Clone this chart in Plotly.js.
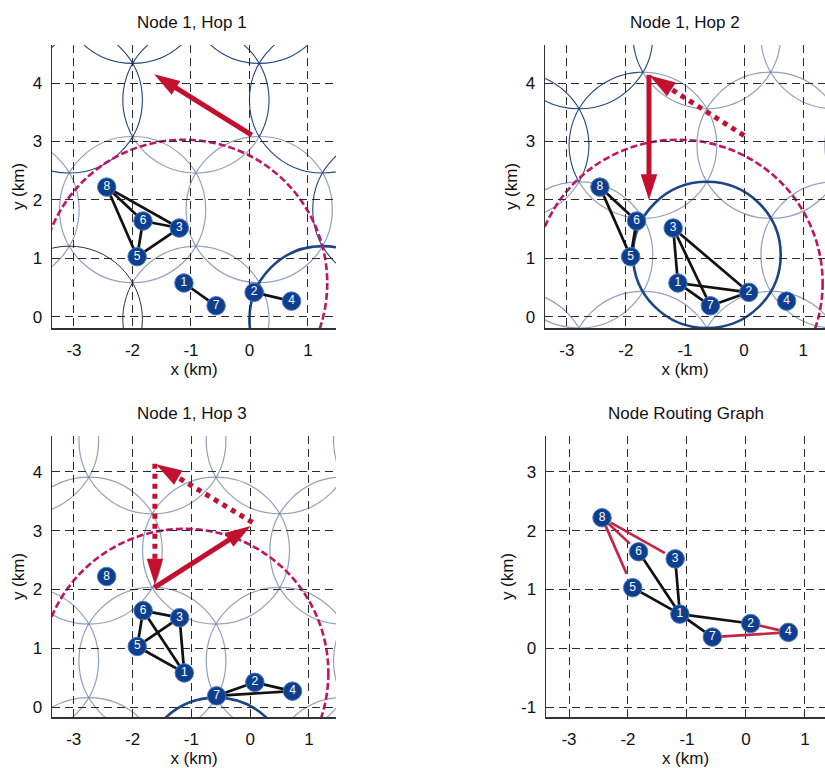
<!DOCTYPE html>
<html><head><meta charset="utf-8">
<script src="https://cdn.plot.ly/plotly-3.0.1.min.js"></script>
<style>html,body{margin:0;padding:0;background:#fff}</style>
</head><body><div id="chart" style="width:825px;height:768px"></div>
<script>
// ---------------- data ----------------
const nodeLabels = ['1','2','3','4','5','6','7','8'];
const nodeX = [-1.12, 0.08, -1.20, 0.72, -1.92, -1.82, -0.57, -2.44];
const nodeY = [0.58, 0.42, 1.52, 0.27, 1.03, 1.64, 0.19, 2.22];

const edgesHop1 = [[8,6],[8,3],[8,5],[6,3],[6,5],[5,3],[1,7],[2,4]];
const edgesHop2 = [[8,6],[8,5],[6,5],[3,1],[3,7],[3,2],[1,2],[1,7],[7,2]];
const edgesHop3 = [[6,3],[6,5],[6,1],[5,3],[5,1],[3,1],[7,2],[7,4],[2,4]];
const edgesRouting = [[6,1],[3,1],[5,1],[1,2],[1,7]];
const redEdgesRouting = [[8,3],[8,6],[8,5],[2,4],[7,4]];
const redEdgeStart = [0.12, 0.15, 0.12, 0.20, 0.10];
const redEdgeEnd   = [0.86, 0.76, 0.80, 0.75, 0.88];

const cellRadius = 1.25;   // km
const rangeRadius = 2.45;  // km, around node 1

// coverage cells (centre, visible arc in degrees, colour class)
const hop1CellX  = [-1.998, 0.167, 2.332, -4.163, -3.08, 1.25, 2.332, -0.915, -0.915, -1.998, 0.167, -4.163, -0.915, -0.915, -3.08, 1.25];
const hop1CellY  = [5.585, 5.585, 5.585, 5.585, 3.71, 3.71, 1.835, 3.71, 3.71, 1.835, 1.835, 1.835, -0.04, -0.04, -0.04, -0.04];
const hop1CellA0 = [0, 0, 0, 0, 0, 0, 0, -30, 210, 0, 0, 0, -30, 150, 0, 0];
const hop1CellA1 = [360, 360, 360, 360, 360, 360, 360, 210, 330, 360, 360, 360, 150, 220, 360, 360];
const hop1CellKind = ['navy','navy','navy','navy','navy','navy','navy','navy','gray','gray','gray','gray','gray','black','black','thick'];

const hop2CellX  = [-2.795, -3.877, -3.877, -0.63, -0.63, -1.712, -1.712, 1.535, 0.453, 1.535, -2.795, -1.712, 0.453, -3.877, 2.618, -0.63];
const hop2CellY  = [4.81, 2.935, 2.935, 4.81, 4.81, 2.935, 2.935, 4.81, 2.935, 1.06, 1.06, -0.815, -0.815, -0.815, 2.935, 1.06];
const hop2CellA0 = [0, -30, -70, 150, -150, 90, -150, 0, 0, 0, 0, 0, 0, 0, 0, 0];
const hop2CellA1 = [360, 70, -30, 210, 150, 210, 90, 360, 360, 360, 360, 360, 360, 360, 360, 360];
const hop2CellKind = ['navy','navy','gray','navy','gray','navy','gray','gray','gray','gray','gray','gray','gray','gray','gray','thick'];

const hop3CellX  = [-0.58, -2.745, 1.585, 0.503, -1.662, -3.827, 2.668, 0.503, -1.662, -3.827, 2.668, -2.745, 1.585, -0.58];
const hop3CellY  = [2.66, 2.66, 2.66, 4.535, 4.535, 4.535, 4.535, 0.785, 0.785, 0.785, 0.785, -1.09, -1.09, -1.09];
const hop3CellA0 = [0,0,0,0,0,0,0,0,0,0,0,0,0,0];
const hop3CellA1 = [360,360,360,360,360,360,360,360,360,360,360,360,360,360];
const hop3CellKind = ['gray','gray','gray','gray','gray','gray','gray','gray','gray','gray','gray','gray','gray','thick'];

// hop arrows (tail -> head)
const hop1ArrowTailX = [0.04],  hop1ArrowTailY = [3.11];
const hop1ArrowHeadX = [-1.63], hop1ArrowHeadY = [4.15];
const hop1ArrowDotted = [false];
const hop2ArrowTailX = [0.00, -1.61], hop2ArrowTailY = [3.10, 4.14];
const hop2ArrowHeadX = [-1.60, -1.61], hop2ArrowHeadY = [4.13, 2.00];
const hop2ArrowDotted = [true, false];
const hop3ArrowTailX = [0.04, -1.62, -1.63], hop3ArrowTailY = [3.14, 4.14, 2.03];
const hop3ArrowHeadX = [-1.60, -1.62, 0.01], hop3ArrowHeadY = [4.13, 2.08, 3.08];
const hop3ArrowDotted = [true, true, false];

const xTicks = [-3, -2, -1, 0, 1];
const yTicksHop = [0, 1, 2, 3, 4];
const yTicksRouting = [-1, 0, 1, 2, 3];

const panelTitles = ['Node 1, Hop 1', 'Node 1, Hop 2', 'Node 1, Hop 3', 'Node Routing Graph'];

// ---------------- styles ----------------
const FONT = 'Liberation Sans, Arial, Helvetica, sans-serif';
const RED = '#c3102f';
const kindStyle = {
  gray:  {color: 'rgba(118,136,170,0.80)', width: 1.2},
  navy:  {color: '#24447e', width: 1.1},
  black: {color: '#1a1a1a', width: 0.9},
  thick: {color: '#1d4587', width: 2.6}
};

const shapes = [];
const annotations = [];
const traces = [];

function cellShapes(cx, cy, a0, a1, kind, xr, yr) {
  const order = ['gray','black','navy','thick'];
  order.forEach(k => {
    for (let i = 0; i < cx.length; i++) {
      if (kind[i] !== k) continue;
      const st = kindStyle[k];
      if (a1[i] - a0[i] >= 360) {
        shapes.push({type:'circle', xref:xr, yref:yr, layer:'below',
          x0: cx[i]-cellRadius, x1: cx[i]+cellRadius, y0: cy[i]-cellRadius, y1: cy[i]+cellRadius,
          line:{color:st.color, width:st.width}});
      } else {
        let p = '';
        const n = Math.ceil((a1[i]-a0[i])/3);
        for (let s = 0; s <= n; s++) {
          const a = (a0[i] + (a1[i]-a0[i])*s/n) * Math.PI/180;
          const px = cx[i] + cellRadius*Math.cos(a), py = cy[i] + cellRadius*Math.sin(a);
          p += (s === 0 ? 'M' : 'L') + px.toFixed(4) + ',' + py.toFixed(4) + ' ';
        }
        shapes.push({type:'path', xref:xr, yref:yr, layer:'below', path:p,
          line:{color:st.color, width:st.width}});
      }
    }
  });
}

function rangeCircle(xr, yr) {
  shapes.push({type:'circle', xref:xr, yref:yr, layer:'below',
    x0: nodeX[0]-rangeRadius, x1: nodeX[0]+rangeRadius,
    y0: nodeY[0]-rangeRadius, y1: nodeY[0]+rangeRadius,
    line:{color:'#c01464', width:2.6, dash:'7px,3px'}});
}

function arrowShapes(tx, ty, hx, hy, dotted, xr, yr) {
  const headLen = 0.44, headHalf = 0.14;
  for (let i = 0; i < tx.length; i++) {
    const dx = hx[i]-tx[i], dy = hy[i]-ty[i];
    const L = Math.hypot(dx, dy), ux = dx/L, uy = dy/L;
    const bx = hx[i] - ux*headLen*0.8, by = hy[i] - uy*headLen*0.8;
    shapes.push({type:'line', xref:xr, yref:yr, layer:'above',
      x0: tx[i], y0: ty[i], x1: bx, y1: by,
      line:{color:RED, width:5, dash: dotted[i] ? 'dot' : 'solid'}});
    const cx = hx[i] - ux*headLen, cy = hy[i] - uy*headLen;
    const p = 'M' + hx[i] + ',' + hy[i] +
      ' L' + (cx - uy*headHalf) + ',' + (cy + ux*headHalf) +
      ' L' + (cx + uy*headHalf) + ',' + (cy - ux*headHalf) + ' Z';
    shapes.push({type:'path', xref:xr, yref:yr, layer:'above', path:p,
      fillcolor:RED, line:{width:0}});
  }
}

function edgeTrace(edges, xa, ya, color, startF, endF) {
  const x = [], y = [];
  edges.forEach((e, k) => {
    const a = e[0]-1, b = e[1]-1;
    const f0 = startF ? startF[k] : 0, f1 = endF ? endF[k] : 1;
    x.push(nodeX[a] + (nodeX[b]-nodeX[a])*f0, nodeX[a] + (nodeX[b]-nodeX[a])*f1, null);
    y.push(nodeY[a] + (nodeY[b]-nodeY[a])*f0, nodeY[a] + (nodeY[b]-nodeY[a])*f1, null);
  });
  traces.push({type:'scatter', mode:'lines', x, y, xaxis:xa, yaxis:ya,
    line:{color, width:2.7}, hoverinfo:'skip', showlegend:false});
}

function nodeTrace(xa, ya) {
  traces.push({type:'scatter', mode:'markers+text', x:nodeX, y:nodeY, text:nodeLabels,
    xaxis:xa, yaxis:ya, textposition:'middle center',
    textfont:{color:'#ffffff', size:12, family:FONT},
    marker:{size:18.5, color:'#0e3e8e', line:{color:'#4a78c2', width:1}},
    hoverinfo:'skip', showlegend:false});
}

// panel 1
cellShapes(hop1CellX, hop1CellY, hop1CellA0, hop1CellA1, hop1CellKind, 'x', 'y');
rangeCircle('x', 'y');
arrowShapes(hop1ArrowTailX, hop1ArrowTailY, hop1ArrowHeadX, hop1ArrowHeadY, hop1ArrowDotted, 'x', 'y');
edgeTrace(edgesHop1, 'x', 'y', '#111');
nodeTrace('x', 'y');
// panel 2
cellShapes(hop2CellX, hop2CellY, hop2CellA0, hop2CellA1, hop2CellKind, 'x2', 'y2');
rangeCircle('x2', 'y2');
arrowShapes(hop2ArrowTailX, hop2ArrowTailY, hop2ArrowHeadX, hop2ArrowHeadY, hop2ArrowDotted, 'x2', 'y2');
edgeTrace(edgesHop2, 'x2', 'y2', '#111');
nodeTrace('x2', 'y2');
// panel 3
cellShapes(hop3CellX, hop3CellY, hop3CellA0, hop3CellA1, hop3CellKind, 'x3', 'y3');
rangeCircle('x3', 'y3');
arrowShapes(hop3ArrowTailX, hop3ArrowTailY, hop3ArrowHeadX, hop3ArrowHeadY, hop3ArrowDotted, 'x3', 'y3');
edgeTrace(edgesHop3, 'x3', 'y3', '#111');
nodeTrace('x3', 'y3');
// panel 4
edgeTrace(redEdgesRouting, 'x4', 'y4', '#c2274a', redEdgeStart, redEdgeEnd);
edgeTrace(edgesRouting, 'x4', 'y4', '#111');
nodeTrace('x4', 'y4');

// ---------------- axes ----------------
const W = 825, H = 768;
function xAxis(l, r, range, anchor) {
  return {domain:[l/W, r/W], range, anchor, tickvals:xTicks, ticktext:xTicks.map(String),
    showgrid:true, gridcolor:'#2a2a2a', griddash:'8px,5px', gridwidth:1, zeroline:false,
    showline:true, linecolor:'#333', linewidth:1.5, ticks:'', ticklabelstandoff:6,
    tickfont:{family:FONT, size:17, color:'#111'},
    title:{text:'x (km)', font:{family:FONT, size:17, color:'#111'}, standoff:3},
    automargin:false, fixedrange:true};
}
function yAxis(top, bottom, range, anchor, ticks) {
  return {domain:[1-bottom/H, 1-top/H], range, anchor, tickvals:ticks, ticktext:ticks.map(String),
    showgrid:true, gridcolor:'#2a2a2a', griddash:'8px,5px', gridwidth:1, zeroline:false,
    showline:true, linecolor:'#333', linewidth:1.5, ticks:'', ticklabelstandoff:5,
    tickfont:{family:FONT, size:17, color:'#111'},
    title:{text:'y (km)', font:{family:FONT, size:17, color:'#111'}, standoff:3},
    automargin:false, fixedrange:true};
}

const titlePos = [[192, 22], [685, 22], [192, 413], [686, 413]];
panelTitles.forEach((t, i) => {
  annotations.push({text:t, xref:'paper', yref:'paper', x:titlePos[i][0]/W, y:1-titlePos[i][1]/H,
    xanchor:'center', yanchor:'middle', showarrow:false, font:{family:FONT, size:17, color:'#111'}});
});

const layout = {
  width:W, height:H, margin:{l:0, r:0, t:0, b:0}, paper_bgcolor:'#fff', plot_bgcolor:'#fff',
  showlegend:false, font:{family:FONT},
  xaxis:  xAxis(52, 336, [-3.376, 1.48], 'y'),
  yaxis:  yAxis(45, 328, [-0.19, 4.65], 'x', yTicksHop),
  xaxis2: xAxis(545, 825, [-3.37, 1.37], 'y2'),
  yaxis2: yAxis(45, 328, [-0.19, 4.65], 'x2', yTicksHop),
  xaxis3: xAxis(52, 336, [-3.37, 1.46], 'y3'),
  yaxis3: yAxis(436, 717, [-0.17, 4.61], 'x3', yTicksHop),
  xaxis4: xAxis(546, 825, [-3.39, 1.34], 'y4'),
  yaxis4: yAxis(436, 717, [-1.17, 3.61], 'x4', yTicksRouting),
  shapes, annotations
};

Plotly.newPlot('chart', traces, layout, {displayModeBar:false, staticPlot:true});
</script></body></html>
